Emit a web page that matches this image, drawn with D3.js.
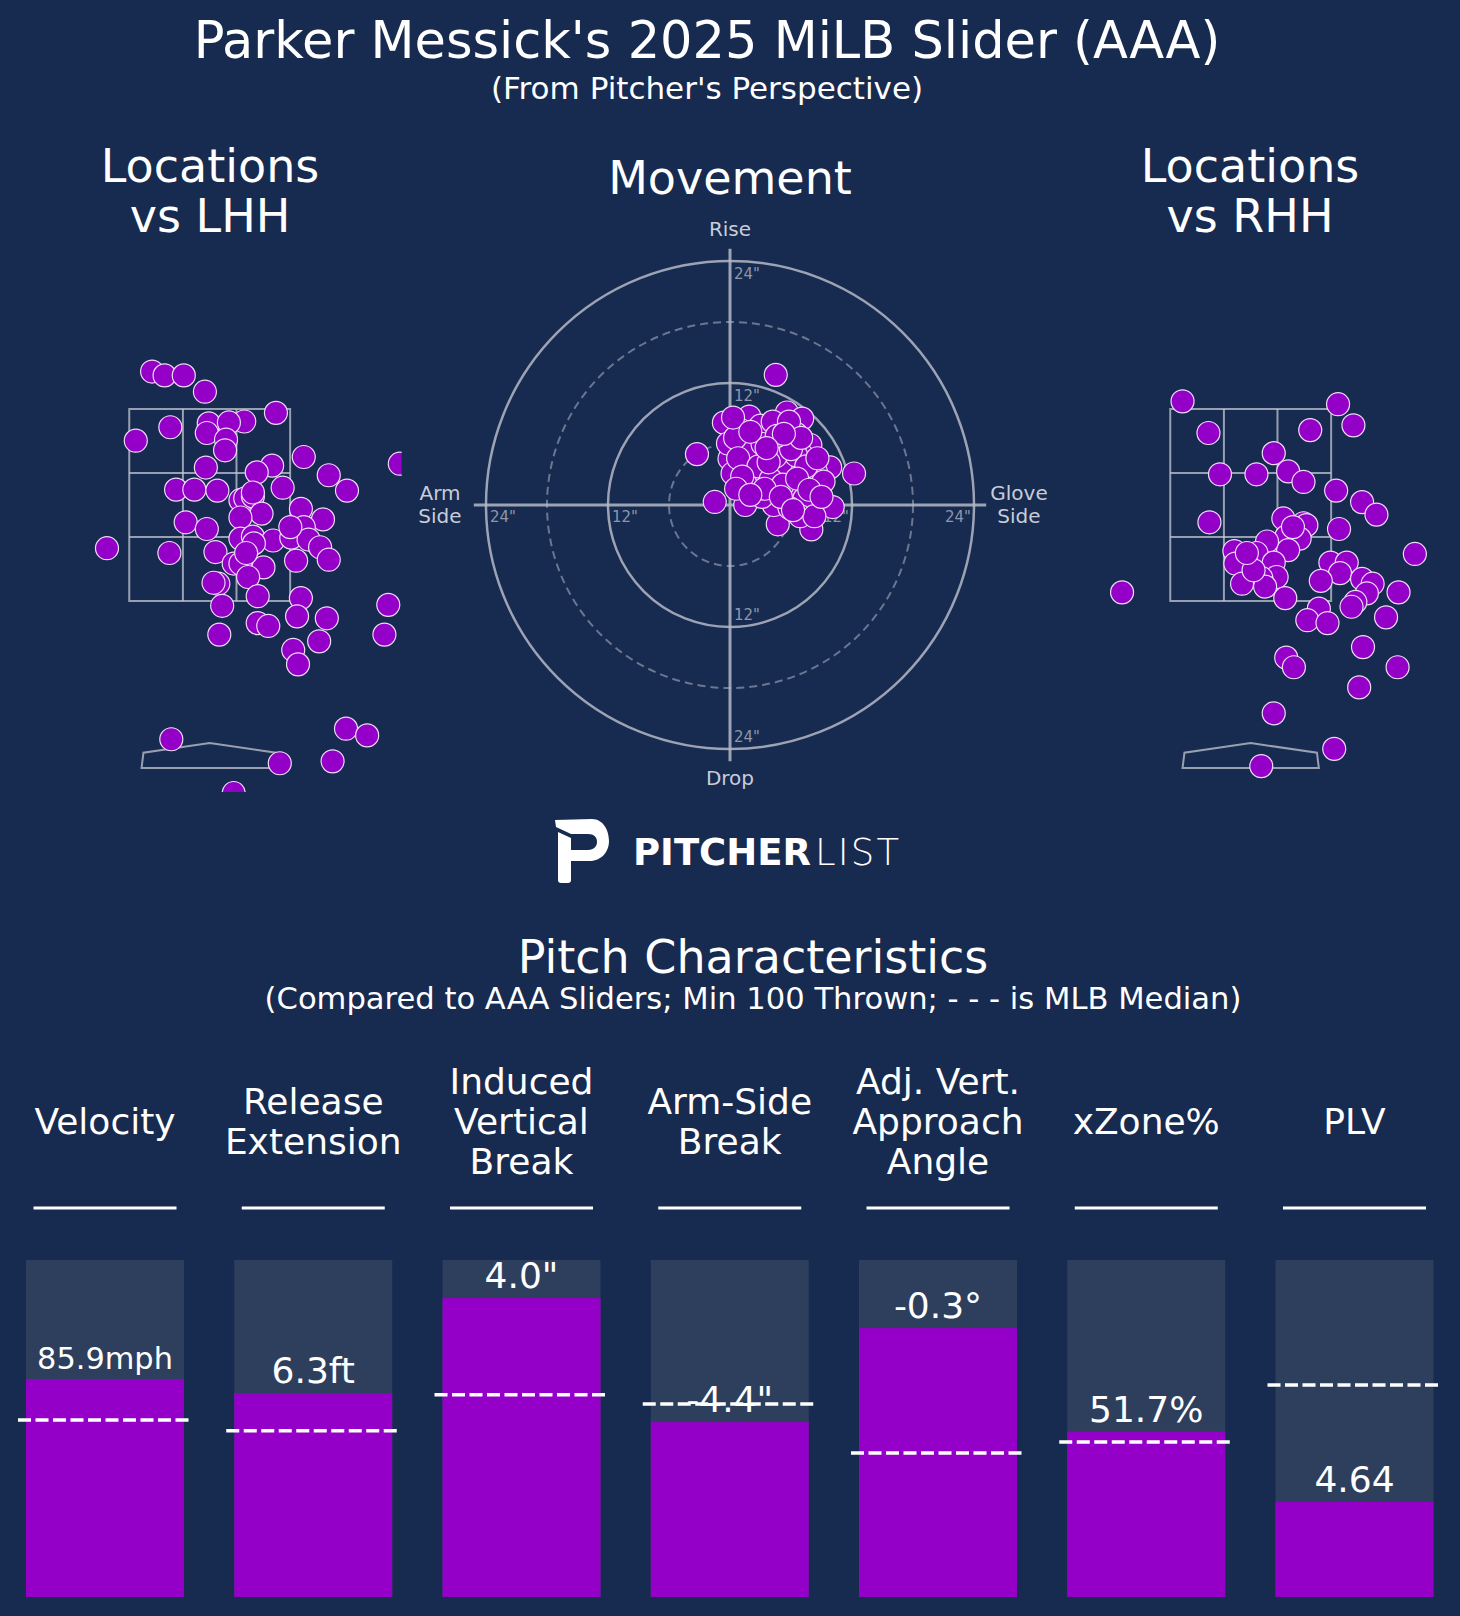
<!DOCTYPE html>
<html><head><meta charset="utf-8">
<script src="https://cdn.jsdelivr.net/npm/d3@7/dist/d3.min.js"></script>
<style>
body{margin:0;background:#172a4f;}
svg{display:block;}
text{font-family:"DejaVu Sans",sans-serif;}
</style>
</head><body>
<svg id="chart" width="1460" height="1616"></svg>
<script>
// ---------------- DATA ----------------
const mainTitle = "Parker Messick's 2025 MiLB Slider (AAA)";
const mainSubtitle = "(From Pitcher's Perspective)";
const sectionTitle = "Pitch Characteristics";
const sectionSubtitle = "(Compared to AAA Sliders; Min 100 Thrown; - - - is MLB Median)";

// pitch locations vs LHH [plate_x ft, plate_z ft] (pitcher's perspective)
const lhhPitches = [[-0.60,3.89],[-0.47,3.85],[-0.27,3.85],[-0.05,3.68],[0.69,3.46],[-0.41,3.31],[-0.77,3.17],[-0.01,3.35],[0.36,3.37],[0.20,3.36],[-0.03,3.25],[0.17,3.18],[0.16,3.07],[-0.04,2.89],[0.98,3.00],[0.65,2.91],[0.49,2.84],[1.24,2.81],[1.43,2.65],[-0.35,2.66],[-0.16,2.66],[0.08,2.65],[0.76,2.68],[0.32,2.55],[0.37,2.57],[0.45,2.59],[0.95,2.46],[0.54,2.41],[0.32,2.37],[-0.25,2.32],[-0.03,2.25],[1.18,2.35],[0.98,2.27],[0.32,2.15],[0.45,2.17],[0.66,2.13],[0.85,2.16],[1.03,2.14],[1.15,2.06],[0.46,2.10],[-1.07,2.05],[-0.42,2.00],[0.06,2.01],[0.25,1.89],[0.32,1.89],[0.56,1.85],[0.40,1.75],[0.90,1.92],[1.24,1.93],[0.09,1.68],[0.04,1.69],[0.50,1.55],[0.95,1.53],[0.13,1.45],[1.86,1.46],[0.91,1.34],[1.22,1.32],[0.50,1.27],[0.61,1.24],[0.10,1.15],[1.82,1.15],[1.14,1.08],[0.87,0.99],[0.92,0.84],[1.42,0.17],[1.64,0.10],[-0.40,0.06],[0.73,-0.19],[1.28,-0.17],[0.25,-0.50],[1.98,2.93],[0.45,2.63],[0.38,2.00],[0.84,2.27]];

// pitch locations vs RHH
const rhhPitches = [[-0.71,3.58],[0.91,3.55],[1.07,3.33],[-0.44,3.25],[0.62,3.28],[0.24,3.04],[-0.32,2.82],[0.06,2.82],[0.39,2.85],[0.55,2.74],[0.89,2.65],[1.16,2.53],[1.31,2.40],[-0.43,2.32],[0.34,2.36],[0.55,2.31],[0.58,2.29],[0.92,2.25],[0.37,2.17],[0.51,2.15],[0.39,2.03],[0.17,2.12],[-0.17,2.02],[0.06,2.00],[0.24,1.90],[-0.16,1.89],[0.27,1.75],[0.11,1.74],[-0.09,1.68],[0.15,1.65],[0.03,1.82],[0.83,1.90],[1.00,1.90],[0.93,1.79],[0.73,1.71],[1.71,1.99],[1.16,1.73],[1.27,1.68],[1.54,1.59],[1.21,1.58],[1.09,1.49],[1.05,1.44],[0.36,1.53],[-1.34,1.59],[0.71,1.42],[0.59,1.30],[0.80,1.27],[1.41,1.33],[1.17,1.02],[0.37,0.91],[0.45,0.81],[1.53,0.81],[1.13,0.60],[0.24,0.33],[0.87,-0.04],[0.11,-0.22],[-0.04,2.00],[0.44,2.27]];

// movement [horizontal break in, glove side positive ; induced vertical break in]
const movementPitches = [[4.5,12.8],[-3.25,5.0],[-1.5,0.3],[12.2,3.1],[8.0,-2.4],[10.1,-0.2],[1.5,0.0],[4.7,-1.9],[-0.6,8.1],[1.9,8.7],[5.6,9.1],[7.1,8.5],[1.0,7.4],[4.9,7.6],[7.9,5.9],[1.1,5.0],[3.35,5.1],[7.1,4.9],[-0.05,4.55],[9.85,3.7],[6.05,3.1],[8.45,3.25],[0.25,3.1],[2.3,2.0],[8.45,2.0],[5.85,1.3],[7.3,0.6],[4.3,0.0],[5.85,-0.3],[6.9,-1.1],[8.3,-1.1],[3.15,0.8],[9.2,2.3],[6.5,7.0],[3.95,6.25],[-0.2,6.05],[1.9,4.0],[3.55,3.05],[5.0,4.0],[6.5,4.9],[2.5,6.8],[3.0,7.8],[4.2,8.2],[5.5,6.0],[2.2,5.6],[0.5,6.6],[0.8,4.6],[4.5,4.8],[6.0,5.5],[7.5,3.8],[2.8,3.8],[4.0,2.5],[5.2,2.0],[6.6,2.6],[3.4,1.6],[7.8,1.5],[1.2,2.8],[0.6,1.6],[5.0,0.8],[9.0,0.8],[6.2,-0.5],[2.0,1.0],[3.8,4.2],[5.8,8.2],[0.3,8.6],[8.6,4.6],[7.0,6.6],[3.2,6.0],[4.6,6.8],[2.0,7.2],[5.3,7.0],[3.6,5.6]];

const ringValues = [6, 12, 18, 24];
const tickLabels = ["12\"", "24\""];

const metricHeaders = [["Velocity"],["Release","Extension"],["Induced","Vertical","Break"],["Arm-Side","Break"],["Adj. Vert.","Approach","Angle"],["xZone%"],["PLV"]];
const metricKeys = ["velo","ext","ivb","hb","vaa","xzone","plv"];
const valueLabels = ["85.9mph","6.3ft","4.0\"","-4.4\"","-0.3°","51.7%","4.64"];
const percentiles = [0.647, 0.605, 0.887, 0.519, 0.798, 0.490, 0.282];
const medianPercentiles = [0.525, 0.493, 0.600, 0.573, 0.427, 0.460, 0.629];

// ---------------- STYLE ----------------
const BG = "#172a4f", BARBG = "#2e3f5e", PURPLE = "#9400c8", DOTSTROKE = "#ecdcf7";
const WHITE = "#ffffff";

const svg = d3.select("#chart");
svg.append("rect").attr("width",1460).attr("height",1616).attr("fill",BG);

// ---------------- TITLES ----------------
svg.append("text").attr("x",707).attr("y",58).attr("text-anchor","middle")
  .attr("font-size",51).attr("fill",WHITE).text(mainTitle);
svg.append("text").attr("x",707).attr("y",99).attr("text-anchor","middle")
  .attr("font-size",31).attr("fill",WHITE).text(mainSubtitle);

function multiTitle(x, lines, y0){
  const t = svg.append("text").attr("text-anchor","middle").attr("font-size",46).attr("fill",WHITE);
  lines.forEach((l,i)=> t.append("tspan").attr("x",x).attr("y",y0+i*50).text(l));
}
multiTitle(210, ["Locations","vs LHH"], 182);
multiTitle(730, ["Movement"], 194);
multiTitle(1250, ["Locations","vs RHH"], 182);

// ---------------- LOCATION PANELS ----------------
function locationPanel(cx, data, id){
  const x = d3.scaleLinear().domain([-2, 2]).range([cx-192, cx+192]);
  const y = d3.scaleLinear().domain([0, 4]).range([745, 745-384]);
  svg.append("clipPath").attr("id",id).append("rect")
    .attr("x",x(-2)).attr("y",y(4.6)).attr("width",x(2)-x(-2)).attr("height",y(-0.49)-y(4.6));
  const g = svg.append("g").attr("clip-path",`url(#${id})`);
  const zx = [-0.838, -0.279, 0.279, 0.838], zz = [1.5, 2.1667, 2.8333, 3.5];
  const lineCol = "#c3c7d0";
  g.append("rect").attr("x",x(zx[0])).attr("y",y(zz[3])).attr("width",x(zx[3])-x(zx[0]))
    .attr("height",y(zz[0])-y(zz[3])).attr("fill","none").attr("stroke",lineCol).attr("stroke-opacity",0.75).attr("stroke-width",2);
  [zx[1],zx[2]].forEach(v=> g.append("line").attr("x1",x(v)).attr("x2",x(v)).attr("y1",y(zz[0])).attr("y2",y(zz[3]))
    .attr("stroke",lineCol).attr("stroke-opacity",0.75).attr("stroke-width",2));
  [zz[1],zz[2]].forEach(v=> g.append("line").attr("y1",y(v)).attr("y2",y(v)).attr("x1",x(zx[0])).attr("x2",x(zx[3]))
    .attr("stroke",lineCol).attr("stroke-opacity",0.75).attr("stroke-width",2));
  const plate = [[-0.71,-0.24],[-0.69,-0.08],[0,0.02],[0.69,-0.08],[0.71,-0.24]];
  g.append("path").attr("d", d3.line().x(d=>x(d[0])).y(d=>y(d[1]))(plate)+"Z")
    .attr("fill","none").attr("stroke",lineCol).attr("stroke-opacity",0.75).attr("stroke-width",2);
  g.selectAll("circle.p").data(data).join("circle").attr("class","p")
    .attr("cx",d=>x(d[0])).attr("cy",d=>y(d[1])).attr("r",11.5)
    .attr("fill",PURPLE).attr("stroke",DOTSTROKE).attr("stroke-width",1.2);
}
locationPanel(209.7, lhhPitches, "clipL");
locationPanel(1250.7, rhhPitches, "clipR");

// ---------------- MOVEMENT (POLAR) ----------------
(function(){
  const cx = 730, cy = 505;
  const r = d3.scaleLinear().domain([0, 24]).range([0, 244]);
  const g = svg.append("g");
  const axisCol = "#b4b9c6";
  ringValues.forEach(v=>{
    const dashed = (v % 12) !== 0;
    g.append("circle").attr("cx",cx).attr("cy",cy).attr("r",r(v)).attr("fill","none")
      .attr("stroke", dashed ? "#6b7691" : axisCol).attr("stroke-width", dashed ? 2 : 2.5)
      .attr("stroke-opacity", dashed ? 1 : 0.85)
      .attr("stroke-dasharray", dashed ? "8,5" : null);
  });
  g.append("line").attr("x1",cx-r(25.2)).attr("x2",cx+r(25.2)).attr("y1",cy).attr("y2",cy)
    .attr("stroke",axisCol).attr("stroke-width",3).attr("stroke-opacity",0.85);
  g.append("line").attr("y1",cy-r(25.2)).attr("y2",cy+r(25.2)).attr("x1",cx).attr("x2",cx)
    .attr("stroke",axisCol).attr("stroke-width",3).attr("stroke-opacity",0.85);
  const tc = "#8d96ab", ts = 15;
  [12,24].forEach((v,i)=>{
    const lab = tickLabels[i];
    g.append("text").attr("x",cx+4).attr("y",cy-r(v)+18).attr("font-size",ts).attr("fill",tc).text(lab);
    g.append("text").attr("x",cx+4).attr("y",cy+r(v)-7).attr("font-size",ts).attr("fill",tc).text(lab);
    g.append("text").attr("x",cx-r(v)+4).attr("y",cy+17).attr("font-size",ts).attr("fill",tc).text(lab);
    g.append("text").attr("x",cx+r(v)-3).attr("y",cy+17).attr("text-anchor","end").attr("font-size",ts).attr("fill",tc).text(lab);
  });
  const lc = "#c9cdd7", ls = 20;
  g.append("text").attr("x",cx).attr("y",236).attr("text-anchor","middle").attr("font-size",ls).attr("fill",lc).text("Rise");
  g.append("text").attr("x",cx).attr("y",785).attr("text-anchor","middle").attr("font-size",ls).attr("fill",lc).text("Drop");
  const a = g.append("text").attr("text-anchor","middle").attr("font-size",ls).attr("fill",lc);
  a.append("tspan").attr("x",440).attr("y",500).text("Arm");
  a.append("tspan").attr("x",440).attr("y",523).text("Side");
  const b = g.append("text").attr("text-anchor","middle").attr("font-size",ls).attr("fill",lc);
  b.append("tspan").attr("x",1019).attr("y",500).text("Glove");
  b.append("tspan").attr("x",1019).attr("y",523).text("Side");
  g.selectAll("circle.m").data(movementPitches).join("circle").attr("class","m")
    .attr("cx",d=>cx + r(d[0])).attr("cy",d=>cy - r(d[1])).attr("r",11.5)
    .attr("fill",PURPLE).attr("stroke",DOTSTROKE).attr("stroke-width",1.2);
})();

// ---------------- LOGO ----------------
(function(){
  const g = svg.append("g");
  g.append("path").attr("fill",WHITE).attr("d",
    "M555,820 L592,819 C603,819 609,830 609,841 C609,852 601,861 590,861 L571,861 L571,850 L588,850 C594,850 597,846 597,842 C597,837 594,834 588,834 L571,834 L556,827 Z");
  g.append("path").attr("fill",WHITE).attr("d",
    "M558,832 L571,838 L571,880 Q571,883 568,883 L561,883 Q558,883 558,880 Z");
  const t1 = g.append("text").attr("x",633).attr("y",865).attr("font-family","Lato, 'Open Sans', sans-serif")
    .attr("font-weight",700).attr("font-size",37).attr("fill",WHITE).text("PITCHER");
  const w1 = t1.node().getComputedTextLength();
  t1.attr("letter-spacing", ((178 - w1)/6).toFixed(2));
  const t2 = g.append("text").attr("x",815).attr("y",865).attr("font-family","Lato, 'Open Sans', sans-serif")
    .attr("font-weight",300).attr("font-size",37).attr("fill",WHITE).text("LIST");
  const w2 = t2.node().getComputedTextLength();
  t2.attr("letter-spacing", ((84 - w2)/3).toFixed(2));
})();

// ---------------- PITCH CHARACTERISTICS ----------------
svg.append("text").attr("x",753).attr("y",973).attr("text-anchor","middle")
  .attr("font-size",46).attr("fill",WHITE).text(sectionTitle);
svg.append("text").attr("x",753).attr("y",1009).attr("text-anchor","middle")
  .attr("font-size",30.6).attr("fill",WHITE).text(sectionSubtitle);

const xC = d3.scalePoint().domain(metricKeys).range([105, 1354.5]);
const yB = d3.scaleLinear().domain([0, 1]).range([1597, 1260]);
const barW = 158;

metricKeys.forEach((k,i)=>{
  const cx = xC(k);
  const lines = metricHeaders[i];
  const t = svg.append("text").attr("text-anchor","middle").attr("font-size",36).attr("fill",WHITE);
  lines.forEach((l,j)=> t.append("tspan").attr("x",cx).attr("y",1134 + (j-(lines.length-1)/2)*40).text(l));
  svg.append("line").attr("x1",cx-71.5).attr("x2",cx+71.5).attr("y1",1208).attr("y2",1208)
    .attr("stroke",WHITE).attr("stroke-width",3);
  svg.append("rect").attr("x",cx-barW/2).attr("y",yB(1)).attr("width",barW).attr("height",yB(0)-yB(1)).attr("fill",BARBG);
  svg.append("rect").attr("x",cx-barW/2).attr("y",yB(percentiles[i])).attr("width",barW)
    .attr("height",yB(0)-yB(percentiles[i])).attr("fill",PURPLE);
  const lab = svg.append("text").attr("x",cx).attr("y",yB(percentiles[i])-10).attr("text-anchor","middle")
    .attr("font-size",36).attr("fill",WHITE).text(valueLabels[i]);
  const w = lab.node().getComputedTextLength();
  if (w > 136) lab.attr("font-size", (36*136/w).toFixed(1));
  svg.append("line").attr("x1",cx-87).attr("x2",cx+87).attr("y1",yB(medianPercentiles[i])).attr("y2",yB(medianPercentiles[i]))
    .attr("stroke",WHITE).attr("stroke-width",3.5).attr("stroke-dasharray","13,4.5");
});
</script>
</body></html>
